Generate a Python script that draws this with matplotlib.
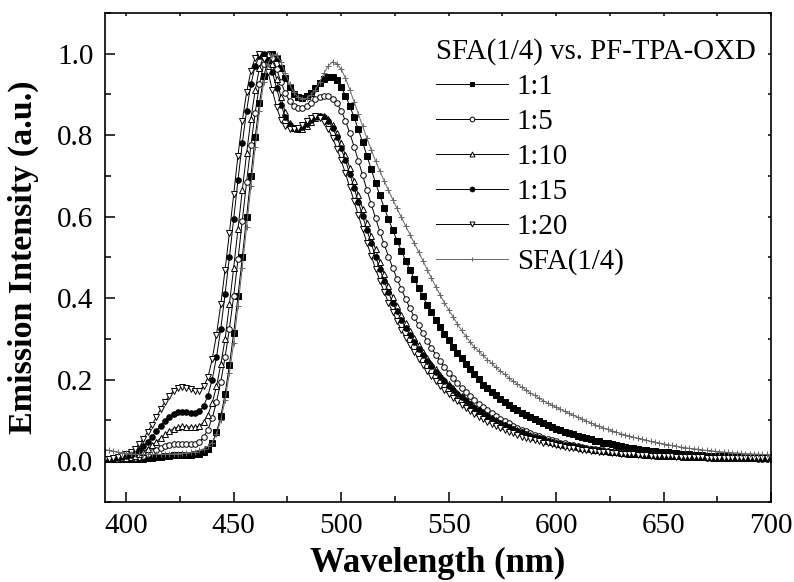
import numpy as np
import matplotlib
matplotlib.use("Agg")
import matplotlib.pyplot as plt
from matplotlib.ticker import MultipleLocator

plt.rcParams['font.family'] = ['Liberation Serif', 'DejaVu Serif']

# wavelength grid (nm), 2 nm steps
wavelength = np.arange(390, 701, 2)

labels = ["1:1", "1:5", "1:10", "1:15", "1:20", "SFA(1/4)"]
legend_title = "SFA(1/4) vs. PF-TPA-OXD"
yticks = [0.0, 0.2, 0.4, 0.6, 0.8, 1.0]

r1_1 = [
    0.004, 0.004, 0.004, 0.004, 0.004, 0.005, 0.005, 0.005, 0.006, 0.006,
    0.007, 0.008, 0.009, 0.010, 0.012, 0.013, 0.014, 0.015, 0.015, 0.015,
    0.015, 0.016, 0.018, 0.022, 0.030, 0.045, 0.070, 0.110, 0.165, 0.235,
    0.315, 0.405, 0.500, 0.600, 0.700, 0.795, 0.880, 0.945, 0.985, 1.000,
    0.990, 0.965, 0.940, 0.918, 0.902, 0.893, 0.891, 0.895, 0.904, 0.916,
    0.928, 0.938, 0.944, 0.944, 0.935, 0.918, 0.897, 0.872, 0.844, 0.814,
    0.782, 0.749, 0.716, 0.683, 0.652, 0.622, 0.594, 0.567, 0.541, 0.516,
    0.492, 0.469, 0.447, 0.425, 0.404, 0.384, 0.365, 0.347, 0.329, 0.312,
    0.296, 0.281, 0.266, 0.252, 0.238, 0.225, 0.213, 0.201, 0.187, 0.178,
    0.169, 0.161, 0.153, 0.145, 0.138, 0.131, 0.125, 0.118, 0.113, 0.107,
    0.102, 0.097, 0.092, 0.088, 0.083, 0.079, 0.075, 0.072, 0.068, 0.065,
    0.062, 0.059, 0.056, 0.053, 0.050, 0.048, 0.045, 0.043, 0.041, 0.039,
    0.037, 0.035, 0.033, 0.031, 0.030, 0.028, 0.027, 0.025, 0.024, 0.023,
    0.022, 0.021, 0.020, 0.019, 0.018, 0.017, 0.016, 0.015, 0.015, 0.014,
    0.013, 0.013, 0.012, 0.012, 0.011, 0.011, 0.010, 0.010, 0.010, 0.009,
    0.009, 0.009, 0.008, 0.008, 0.008, 0.008,
]

r1_5 = [
    0.005, 0.005, 0.005, 0.005, 0.006, 0.006, 0.007, 0.008, 0.010, 0.013,
    0.017, 0.022, 0.027, 0.032, 0.036, 0.039, 0.041, 0.042, 0.042, 0.041,
    0.041, 0.042, 0.047, 0.058, 0.077, 0.105, 0.145, 0.195, 0.255, 0.325,
    0.405, 0.495, 0.590, 0.685, 0.775, 0.855, 0.925, 0.975, 1.000, 0.990,
    0.962, 0.930, 0.903, 0.884, 0.872, 0.867, 0.867, 0.872, 0.880, 0.888,
    0.894, 0.896, 0.895, 0.890, 0.879, 0.860, 0.835, 0.805, 0.772, 0.737,
    0.701, 0.665, 0.630, 0.596, 0.563, 0.532, 0.502, 0.474, 0.447, 0.422,
    0.398, 0.375, 0.353, 0.333, 0.313, 0.295, 0.277, 0.261, 0.245, 0.231,
    0.217, 0.204, 0.192, 0.180, 0.170, 0.160, 0.150, 0.141, 0.133, 0.125,
    0.118, 0.111, 0.104, 0.098, 0.092, 0.087, 0.082, 0.077, 0.073, 0.068,
    0.064, 0.061, 0.057, 0.054, 0.051, 0.048, 0.045, 0.043, 0.040, 0.038,
    0.036, 0.034, 0.032, 0.030, 0.029, 0.027, 0.026, 0.025, 0.023, 0.022,
    0.021, 0.020, 0.019, 0.018, 0.017, 0.017, 0.016, 0.015, 0.015, 0.014,
    0.013, 0.013, 0.012, 0.012, 0.011, 0.011, 0.011, 0.010, 0.010, 0.010,
    0.009, 0.009, 0.009, 0.009, 0.008, 0.008, 0.008, 0.008, 0.008, 0.007,
    0.007, 0.007, 0.007, 0.007, 0.007, 0.007,
]

r1_10 = [
    0.005, 0.005, 0.005, 0.006, 0.007, 0.008, 0.010, 0.013, 0.017, 0.023,
    0.030, 0.038, 0.047, 0.056, 0.065, 0.073, 0.079, 0.083, 0.085, 0.084,
    0.083, 0.083, 0.086, 0.095, 0.113, 0.142, 0.183, 0.237, 0.300, 0.385,
    0.475, 0.570, 0.665, 0.755, 0.840, 0.910, 0.965, 0.995, 1.000, 0.975,
    0.937, 0.893, 0.856, 0.830, 0.818, 0.814, 0.815, 0.822, 0.832, 0.841,
    0.846, 0.846, 0.839, 0.825, 0.805, 0.780, 0.751, 0.720, 0.687, 0.653,
    0.619, 0.585, 0.552, 0.520, 0.489, 0.459, 0.430, 0.403, 0.380, 0.358,
    0.338, 0.319, 0.301, 0.284, 0.268, 0.253, 0.239, 0.225, 0.212, 0.200,
    0.189, 0.178, 0.168, 0.159, 0.150, 0.141, 0.133, 0.126, 0.119, 0.112,
    0.106, 0.100, 0.094, 0.089, 0.084, 0.079, 0.075, 0.071, 0.067, 0.063,
    0.059, 0.056, 0.053, 0.050, 0.047, 0.045, 0.042, 0.040, 0.038, 0.036,
    0.034, 0.032, 0.031, 0.029, 0.028, 0.026, 0.025, 0.024, 0.022, 0.021,
    0.020, 0.019, 0.018, 0.017, 0.017, 0.016, 0.015, 0.014, 0.014, 0.013,
    0.013, 0.012, 0.012, 0.011, 0.011, 0.010, 0.010, 0.010, 0.009, 0.009,
    0.009, 0.009, 0.008, 0.008, 0.008, 0.008, 0.008, 0.007, 0.007, 0.007,
    0.007, 0.007, 0.007, 0.007, 0.007, 0.007,
]

r1_15 = [
    0.005, 0.005, 0.006, 0.007, 0.009, 0.011, 0.015, 0.020, 0.027, 0.036,
    0.047, 0.060, 0.073, 0.087, 0.099, 0.109, 0.116, 0.120, 0.121, 0.120,
    0.118, 0.118, 0.122, 0.135, 0.160, 0.200, 0.255, 0.325, 0.410, 0.500,
    0.595, 0.690, 0.780, 0.860, 0.925, 0.970, 0.995, 1.000, 0.985, 0.955,
    0.915, 0.875, 0.845, 0.826, 0.818, 0.816, 0.819, 0.827, 0.837, 0.845,
    0.848, 0.845, 0.835, 0.818, 0.795, 0.768, 0.738, 0.705, 0.671, 0.636,
    0.601, 0.567, 0.534, 0.502, 0.471, 0.442, 0.414, 0.388, 0.367, 0.346,
    0.327, 0.309, 0.292, 0.276, 0.260, 0.246, 0.232, 0.219, 0.207, 0.196,
    0.185, 0.175, 0.165, 0.156, 0.147, 0.139, 0.131, 0.124, 0.117, 0.111,
    0.104, 0.099, 0.093, 0.088, 0.083, 0.079, 0.074, 0.070, 0.066, 0.062,
    0.059, 0.056, 0.053, 0.050, 0.047, 0.044, 0.042, 0.040, 0.038, 0.036,
    0.034, 0.032, 0.030, 0.029, 0.027, 0.026, 0.024, 0.023, 0.022, 0.021,
    0.020, 0.019, 0.018, 0.017, 0.016, 0.015, 0.015, 0.014, 0.013, 0.013,
    0.012, 0.012, 0.011, 0.011, 0.010, 0.010, 0.010, 0.009, 0.009, 0.009,
    0.008, 0.008, 0.008, 0.008, 0.008, 0.007, 0.007, 0.007, 0.007, 0.007,
    0.007, 0.007, 0.006, 0.006, 0.006, 0.006,
]

r1_20 = [
    0.006, 0.006, 0.007, 0.009, 0.012, 0.016, 0.022, 0.030, 0.041, 0.055,
    0.071, 0.089, 0.108, 0.127, 0.145, 0.160, 0.172, 0.179, 0.182, 0.180,
    0.176, 0.172, 0.173, 0.183, 0.205, 0.250, 0.310, 0.385, 0.470, 0.560,
    0.655, 0.750, 0.835, 0.905, 0.958, 0.990, 1.000, 0.988, 0.955, 0.910,
    0.868, 0.838, 0.822, 0.816, 0.815, 0.818, 0.826, 0.835, 0.843, 0.846,
    0.843, 0.833, 0.816, 0.793, 0.767, 0.738, 0.706, 0.672, 0.638, 0.603,
    0.569, 0.535, 0.503, 0.472, 0.443, 0.415, 0.389, 0.365, 0.343, 0.322,
    0.302, 0.284, 0.267, 0.251, 0.236, 0.222, 0.209, 0.197, 0.185, 0.174,
    0.164, 0.155, 0.146, 0.137, 0.129, 0.122, 0.115, 0.108, 0.102, 0.096,
    0.091, 0.086, 0.081, 0.076, 0.072, 0.068, 0.064, 0.060, 0.057, 0.054,
    0.051, 0.048, 0.045, 0.043, 0.041, 0.039, 0.037, 0.035, 0.033, 0.031,
    0.030, 0.028, 0.027, 0.025, 0.024, 0.023, 0.022, 0.021, 0.020, 0.019,
    0.018, 0.017, 0.016, 0.016, 0.015, 0.014, 0.014, 0.013, 0.013, 0.012,
    0.012, 0.011, 0.011, 0.010, 0.010, 0.010, 0.009, 0.009, 0.009, 0.009,
    0.008, 0.008, 0.008, 0.008, 0.008, 0.007, 0.007, 0.007, 0.007, 0.007,
    0.007, 0.007, 0.007, 0.007, 0.007, 0.007,
]

sfa = [
    0.028, 0.026, 0.024, 0.022, 0.020, 0.019, 0.018, 0.017, 0.016, 0.016,
    0.016, 0.016, 0.016, 0.016, 0.017, 0.017, 0.018, 0.018, 0.019, 0.020,
    0.021, 0.023, 0.026, 0.030, 0.036, 0.045, 0.065, 0.100, 0.150, 0.215,
    0.290, 0.380, 0.475, 0.575, 0.675, 0.770, 0.860, 0.930, 0.975, 0.998,
    0.998, 0.980, 0.952, 0.925, 0.905, 0.893, 0.889, 0.891, 0.899, 0.912,
    0.930, 0.952, 0.970, 0.980, 0.975, 0.962, 0.940, 0.912, 0.882, 0.852,
    0.822, 0.792, 0.764, 0.737, 0.712, 0.688, 0.665, 0.642, 0.620, 0.598,
    0.577, 0.556, 0.535, 0.514, 0.492, 0.470, 0.449, 0.428, 0.408, 0.389,
    0.371, 0.354, 0.337, 0.321, 0.306, 0.292, 0.279, 0.270, 0.259, 0.249,
    0.240, 0.230, 0.221, 0.213, 0.204, 0.196, 0.189, 0.181, 0.174, 0.167,
    0.161, 0.154, 0.148, 0.143, 0.137, 0.132, 0.127, 0.122, 0.117, 0.112,
    0.108, 0.103, 0.098, 0.094, 0.089, 0.085, 0.081, 0.078, 0.074, 0.071,
    0.067, 0.064, 0.061, 0.058, 0.056, 0.053, 0.051, 0.048, 0.046, 0.044,
    0.042, 0.040, 0.038, 0.036, 0.034, 0.033, 0.031, 0.030, 0.029, 0.027,
    0.026, 0.025, 0.024, 0.023, 0.022, 0.021, 0.020, 0.020, 0.019, 0.018,
    0.018, 0.017, 0.017, 0.016, 0.016, 0.015,
]

series = [r1_1, r1_5, r1_10, r1_15, r1_20, sfa]
styles = [
    dict(marker='s', mfc='black', mec='black', color='black', markersize=4.0),
    dict(marker='o', mfc='white', mec='black', color='black', markersize=4.0),
    dict(marker='^', mfc='white', mec='black', color='black', markersize=4.2),
    dict(marker='o', mfc='black', mec='black', color='black', markersize=4.0),
    dict(marker='v', mfc='white', mec='black', color='black', markersize=4.2),
    dict(marker='+', mfc='#666666', mec='#666666', color='#666666', markersize=4.0),
]

fig = plt.figure(figsize=(7.94, 5.82), dpi=100)
ax = fig.add_axes([0.1319, 0.1380, 0.8392, 0.8397])

for y, lab, st in zip(series, labels, styles):
    ax.plot(wavelength, y, label=lab, linewidth=0.7,
            markeredgewidth=0.7, **st)

ax.set_xlim(390, 700)
ax.set_ylim(-0.1, 1.1)
ax.xaxis.set_major_locator(MultipleLocator(50))
ax.xaxis.set_minor_locator(MultipleLocator(25))
ax.yaxis.set_minor_locator(MultipleLocator(0.1))
ax.set_yticks(yticks)
ax.set_yticklabels([f"{v:.1f}" for v in yticks])

ax.tick_params(which='major', direction='in', length=7.5, width=1.1,
               labelsize=21, pad=8)
ax.tick_params(which='minor', direction='in', length=4, width=1.1)
ax.tick_params(which='both', top=True, right=True)
for t in ax.xaxis.get_major_ticks() + ax.xaxis.get_minor_ticks():
    t.tick2line.set_markersize(2.5)
for t in ax.yaxis.get_major_ticks() + ax.yaxis.get_minor_ticks():
    t.tick2line.set_markersize(2.5)
for s in ax.spines.values():
    s.set_linewidth(1.2)

ax.set_xlabel("Wavelength (nm)", fontsize=25, fontweight='bold', labelpad=6)
ax.set_ylabel("Emission Intensity (a.u.)", fontsize=24.5, fontweight='bold', labelpad=13)

leg = ax.legend(title=legend_title, loc='upper left',
                bbox_to_anchor=(0.497, 0.948), frameon=False,
                fontsize=20.8, title_fontsize=20.8, handlelength=2.5,
                handletextpad=0.3, labelspacing=0.3, borderaxespad=0.0,
                borderpad=0.0, alignment='left', markerscale=0.85)

fig.savefig("out.png", dpi=100)
